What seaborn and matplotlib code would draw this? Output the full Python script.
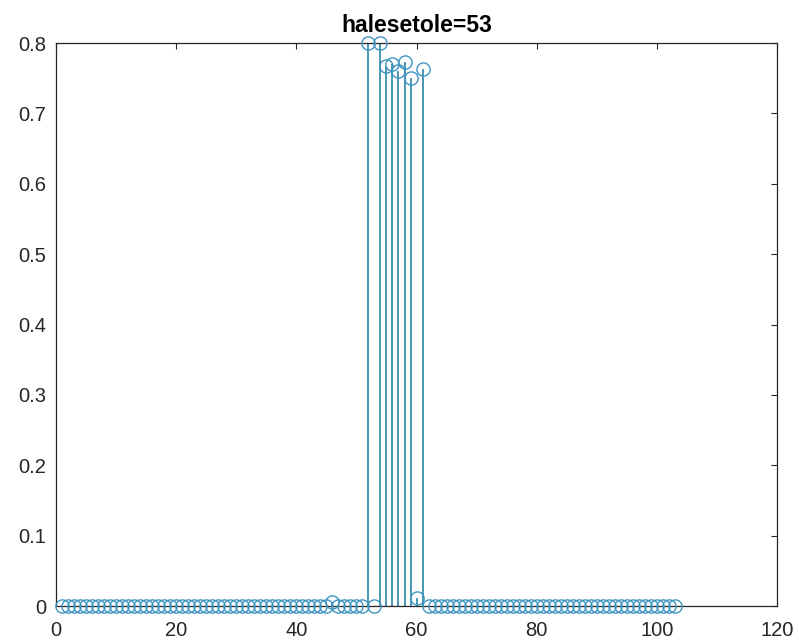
import matplotlib
matplotlib.use("Agg")
import matplotlib.pyplot as plt
import seaborn as sns
import pandas as pd

# Sample index and response value at each sample
sample_idx = list(range(1, 104))
response = [
    0, 0, 0, 0, 0, 0, 0, 0, 0, 0,
    0, 0, 0, 0, 0, 0, 0, 0, 0, 0,
    0, 0, 0, 0, 0, 0, 0, 0, 0, 0,
    0, 0, 0, 0, 0, 0, 0, 0, 0, 0,
    0, 0, 0, 0, 0, 0.006, 0, 0, 0, 0,
    0, 0.80, 0, 0.80, 0.768, 0.770, 0.760, 0.773, 0.750, 0.012,
    0.763, 0, 0, 0, 0, 0, 0, 0, 0, 0,
    0, 0, 0, 0, 0, 0, 0, 0, 0, 0,
    0, 0, 0, 0, 0, 0, 0, 0, 0, 0,
    0, 0, 0, 0, 0, 0, 0, 0, 0, 0,
    0, 0, 0,
]
x_ticks = [0, 20, 40, 60, 80, 100, 120]
y_ticks = [0, 0.1, 0.2, 0.3, 0.4, 0.5, 0.6, 0.7, 0.8]
y_tick_labels = ["0", "0.1", "0.2", "0.3", "0.4", "0.5", "0.6", "0.7", "0.8"]
title_text = "halesetole=53"

df = pd.DataFrame({"n": sample_idx, "value": response})

sns.set_style("white")
plt.rcParams["font.family"] = ["Liberation Sans", "DejaVu Sans"]

stem_color = "#2a86a6"
marker_color = "#3f95c2"
axis_color = "#262626"

fig = plt.figure(figsize=(7.99, 6.44), dpi=100)
ax = fig.add_axes([0.0701, 0.059, 0.9024, 0.8742])

# stems from the baseline up to each value
ax.vlines(df["n"], 0, df["value"], color=stem_color, linewidth=1.2, zorder=2)

# open circle heads
sns.lineplot(data=df, x="n", y="value", ax=ax, linestyle="", marker="o",
             markersize=9.5, markerfacecolor="none", markeredgecolor=marker_color,
             markeredgewidth=1.0, clip_on=False, zorder=3, sort=False,
             estimator=None)

ax.set_xlim(0, 120)
ax.set_ylim(0, 0.8)
ax.set_xticks(x_ticks)
ax.set_xticklabels([str(t) for t in x_ticks])
ax.set_yticks(y_ticks)
ax.set_yticklabels(y_tick_labels)
ax.set_xlabel("")
ax.set_ylabel("")

for s in ax.spines.values():
    s.set_visible(True)
    s.set_color(axis_color)
    s.set_linewidth(0.9)

ax.tick_params(axis="both", direction="in", length=4, width=0.8,
               colors=axis_color, labelcolor=axis_color, labelsize=14.5,
               top=True, right=True)
ax.tick_params(axis="x", pad=11)
ax.tick_params(axis="y", pad=7)

ax.set_title(title_text, fontsize=16.5, fontweight="bold", color="black", pad=8)

fig.savefig("out.png", dpi=100)
